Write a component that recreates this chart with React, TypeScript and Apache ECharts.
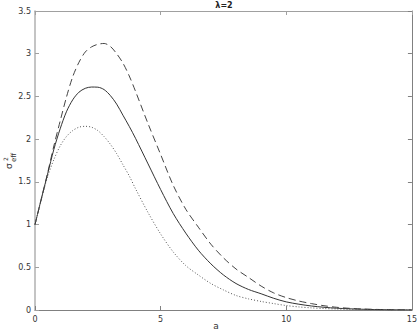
import React, { useEffect, useRef } from "react";
import * as echarts from "echarts";

const aVals = [0, 0.25, 0.5, 0.75, 1, 1.25, 1.5, 1.75, 2, 2.25, 2.5, 2.75, 3, 3.25, 3.5, 3.75, 4, 4.5, 5, 5.5, 6, 6.5, 7, 7.5, 8, 8.5, 9, 9.5, 10, 10.5, 11, 11.5, 12, 12.5, 13, 14, 15];
const dashedVals = [1.0, 1.3, 1.6, 1.92, 2.21, 2.49, 2.73, 2.9, 3.02, 3.08, 3.11, 3.12, 3.085, 3.0, 2.89, 2.74, 2.56, 2.18, 1.82, 1.46, 1.18, 0.97, 0.77, 0.61, 0.48, 0.38, 0.28, 0.2, 0.145, 0.105, 0.075, 0.05, 0.032, 0.02, 0.012, 0.004, 0.001];
const solidVals = [1.0, 1.3, 1.59, 1.88, 2.12, 2.32, 2.46, 2.55, 2.595, 2.61, 2.608, 2.58, 2.51, 2.41, 2.28, 2.15, 2.01, 1.71, 1.41, 1.13, 0.9, 0.7, 0.54, 0.41, 0.31, 0.24, 0.19, 0.137, 0.095, 0.068, 0.047, 0.032, 0.021, 0.014, 0.009, 0.003, 0.001];
const dottedVals = [1.0, 1.29, 1.56, 1.76, 1.92, 2.03, 2.1, 2.14, 2.15, 2.14, 2.1, 2.03, 1.94, 1.83, 1.7, 1.57, 1.42, 1.14, 0.89, 0.68, 0.52, 0.41, 0.31, 0.235, 0.17, 0.13, 0.1, 0.075, 0.052, 0.036, 0.025, 0.017, 0.012, 0.008, 0.005, 0.002, 0.0005];

const xTicks = [0, 5, 10, 15];
const yTicks = [0, 0.5, 1, 1.5, 2, 2.5, 3, 3.5];
const titleText = "λ=2";
const xName = "a";

const FONT = "DejaVu Sans";

export default function App() {
  const ref = useRef<HTMLDivElement>(null);
  useEffect(() => {
    if (!ref.current) return;
    const chart = echarts.init(ref.current, null, { renderer: "svg" });
    const toPts = (vals: number[]) => aVals.map((a, i) => [a, vals[i]]);
    const baseX = {
      type: "value" as const,
      min: xTicks[0],
      max: xTicks[xTicks.length - 1],
      interval: 5,
      splitLine: { show: false },
    };
    const baseY = {
      type: "value" as const,
      min: yTicks[0],
      max: yTicks[yTicks.length - 1],
      interval: 0.5,
      splitLine: { show: false },
    };
    chart.setOption({
      animation: false,
      backgroundColor: "#fff",
      grid: { left: 35, right: 5, top: 11, bottom: 26, containLabel: false },
      xAxis: [
        {
          ...baseX,
          position: "bottom",
          axisLine: { show: true, onZero: false, lineStyle: { color: "#808080", width: 1 } },
          axisTick: { show: true, inside: true, length: 4, lineStyle: { color: "#808080" } },
          axisLabel: { show: true, color: "#333", fontFamily: FONT, fontSize: 8, margin: 5, showMaxLabel: true, showMinLabel: true },
        },
        {
          ...baseX,
          position: "top",
          axisLine: { show: true, onZero: false, lineStyle: { color: "#a0a0a0", width: 1 } },
          axisTick: { show: true, inside: true, length: 4, lineStyle: { color: "#a0a0a0" } },
          axisLabel: { show: false },
        },
      ],
      yAxis: [
        {
          ...baseY,
          position: "left",
          axisLine: { show: true, onZero: false, lineStyle: { color: "#b0b0b0", width: 1.5 } },
          axisTick: { show: true, inside: true, length: 4, lineStyle: { color: "#a0a0a0" } },
          axisLabel: { show: true, color: "#333", fontFamily: FONT, fontSize: 8, margin: 4 },
        },
        {
          ...baseY,
          position: "right",
          axisLine: { show: true, onZero: false, lineStyle: { color: "#808080", width: 1 } },
          axisTick: { show: true, inside: true, length: 4, lineStyle: { color: "#808080" } },
          axisLabel: { show: false },
        },
      ],
      series: [
        {
          type: "line",
          data: toPts(dashedVals),
          smooth: 0.3,
          showSymbol: false,
          lineStyle: { color: "#444", width: 1, type: [7, 4] },
        },
        {
          type: "line",
          data: toPts(solidVals),
          smooth: 0.3,
          showSymbol: false,
          lineStyle: { color: "#333", width: 1, type: "solid" },
        },
        {
          type: "line",
          data: toPts(dottedVals),
          smooth: 0.3,
          showSymbol: false,
          lineStyle: { color: "#555", width: 1, type: [1, 2] },
        },
      ],
      graphic: [
        {
          type: "text",
          x: 224,
          y: 1,
          style: { text: titleText, fill: "#222", font: `bold 8px ${FONT}`, textAlign: "center" },
        },
        {
          type: "text",
          x: 216,
          y: 326,
          style: { text: xName, fill: "#333", font: `9px ${FONT}`, textAlign: "center", textVerticalAlign: "middle" },
        },
        {
          type: "group",
          x: 9,
          y: 169,
          rotation: Math.PI / 2,
          children: [
            {
              type: "text",
              x: 0,
              y: 0,
              style: { text: "σ", fill: "#333", font: `9px ${FONT}`, textAlign: "left", textVerticalAlign: "middle" },
            },
            {
              type: "text",
              x: 8,
              y: -4,
              style: { text: "2", fill: "#333", font: `6px ${FONT}`, textAlign: "left", textVerticalAlign: "middle" },
            },
            {
              type: "text",
              x: 7,
              y: 5,
              style: { text: "eff", fill: "#333", font: `7px ${FONT}`, textAlign: "left", textVerticalAlign: "middle" },
            },
          ],
        },
      ],
    });
    return () => chart.dispose();
  }, []);
  return <div ref={ref} style={{ position: "fixed", left: 0, top: 0, width: 420, height: 336 }} />;
}
